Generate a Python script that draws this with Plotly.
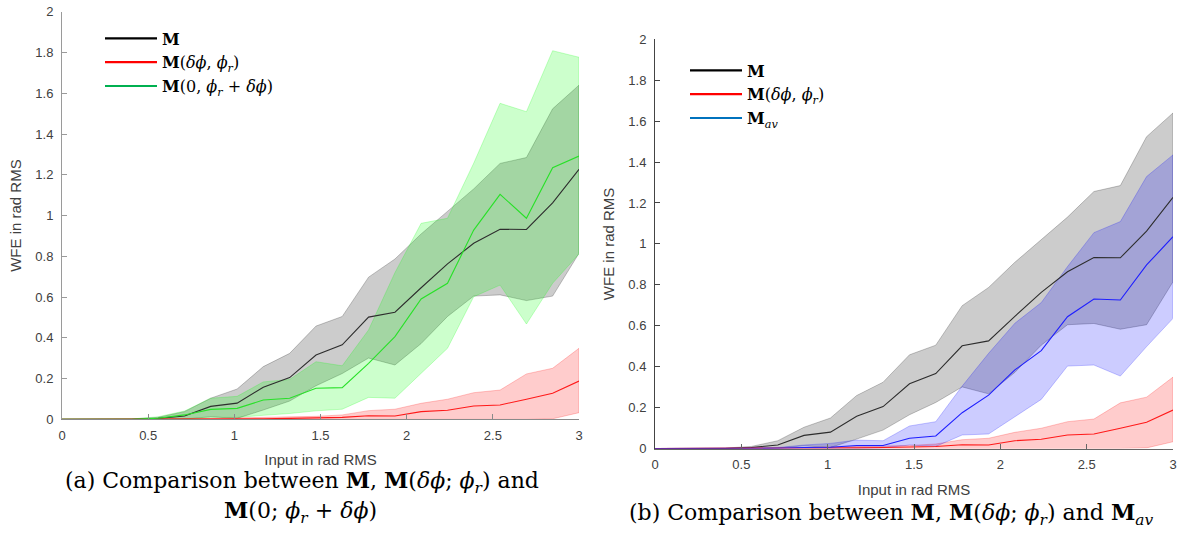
import plotly.graph_objects as go

# ---------------- data ----------------
x_input = [0, 0.1, 0.253, 0.405, 0.558, 0.711, 0.863, 1.016, 1.168, 1.321, 1.474,
           1.626, 1.779, 1.932, 2.084, 2.237, 2.389, 2.542, 2.695, 2.847, 3.0]

m_mean = [0, 0, 0, 0, 0.005, 0.017, 0.064, 0.080, 0.158, 0.205, 0.316,
          0.366, 0.502, 0.526, 0.646, 0.763, 0.864, 0.933, 0.932, 1.062, 1.227]
m_upper = [0, 0, 0, 0.002, 0.010, 0.038, 0.104, 0.149, 0.259, 0.324, 0.458,
           0.505, 0.698, 0.787, 0.910, 1.023, 1.131, 1.256, 1.285, 1.524, 1.640]
m_lower = [0, 0, 0, 0, 0, 0.002, 0.013, 0.005, 0.046, 0.090, 0.165,
           0.225, 0.301, 0.267, 0.372, 0.505, 0.605, 0.611, 0.583, 0.605, 0.815]

r_mean = [0, 0, 0, 0, 0, 0, 0, 0.002, 0.003, 0.005, 0.007,
          0.010, 0.018, 0.017, 0.038, 0.045, 0.066, 0.071, 0.099, 0.128, 0.188]
r_upper = [0, 0, 0, 0, 0, 0.003, 0.005, 0.008, 0.010, 0.012, 0.015,
           0.022, 0.043, 0.050, 0.079, 0.099, 0.131, 0.144, 0.223, 0.251, 0.349]
r_lower = [0, 0, 0, 0, 0, 0, 0, 0, 0, 0, 0,
           0, 0, 0, 0, 0, 0, 0, 0, 0.003, 0.033]

g_mean = [0, 0, 0, 0, 0.006, 0.022, 0.049, 0.054, 0.095, 0.104, 0.153,
          0.156, 0.275, 0.406, 0.591, 0.668, 0.929, 1.104, 0.987, 1.235, 1.292]
g_upper = [0, 0, 0, 0.002, 0.013, 0.041, 0.104, 0.113, 0.184, 0.196, 0.283,
           0.263, 0.439, 0.720, 0.962, 0.987, 1.257, 1.551, 1.510, 1.809, 1.777]
g_lower = [0, 0, 0, 0, 0, 0, 0.010, 0.010, 0.020, 0.029, 0.042,
           0.050, 0.108, 0.104, 0.226, 0.349, 0.602, 0.659, 0.468, 0.668, 0.812]

b_mean = [0, 0, 0, 0, 0, 0.001, 0.005, 0.006, 0.015, 0.015, 0.050,
          0.061, 0.175, 0.261, 0.384, 0.478, 0.644, 0.731, 0.726, 0.897, 1.035]
b_upper = [0, 0, 0, 0, 0.001, 0.005, 0.017, 0.025, 0.041, 0.038, 0.110,
           0.131, 0.305, 0.465, 0.612, 0.713, 0.889, 1.055, 1.109, 1.329, 1.435]
b_lower = [0, 0, 0, 0, 0, 0, 0, 0, 0, 0.003, 0.017,
           0.010, 0.066, 0.071, 0.155, 0.240, 0.403, 0.408, 0.354, 0.498, 0.636]

x_ticks = [0, 0.5, 1, 1.5, 2, 2.5, 3]
x_ticklabels = ["0", "0.5", "1", "1.5", "2", "2.5", "3"]
y_ticks = [0, 0.2, 0.4, 0.6, 0.8, 1.0, 1.2, 1.4, 1.6, 1.8, 2.0]
y_ticklabels = ["0", "0.2", "0.4", "0.6", "0.8", "1", "1.2", "1.4", "1.6", "1.8", "2"]

legend_a = ["<b>M</b>", "<b>M</b>(<i>δϕ</i>, <i>ϕ<sub>r</sub></i>)",
            "<b>M</b>(0, <i>ϕ<sub>r</sub></i> + <i>δϕ</i>)"]
legend_b = ["<b>M</b>", "<b>M</b>(<i>δϕ</i>, <i>ϕ<sub>r</sub></i>)",
            "<b>M</b><sub><i>av</i></sub>"]

caption_a1 = "(a) Comparison between <b>M</b>, <b>M</b>(<i>δϕ</i>; <i>ϕ<sub>r</sub></i>) and"
caption_a2 = "<b>M</b>(0; <i>ϕ<sub>r</sub></i> + <i>δϕ</i>)"
caption_b = ("(b) Comparison between <b>M</b>, <b>M</b>(<i>δϕ</i>; <i>ϕ<sub>r</sub></i>) "
             "and <b>M</b><sub><i>av</i></sub>")

# ---------------- layout helpers (body margin is removed, figure fills the page) ----------------
FW, FH = 1183, 548


def px(p):
    return p / FW


def py(p):
    return 1 - p / FH


SERIF = "DejaVu Serif"
SANS = "Liberation Sans"

fig = go.Figure()


def band(xa, ya, upper, lower, rgb):
    fig.add_trace(go.Scatter(
        x=x_input + x_input[::-1], y=upper + lower[::-1],
        fill="toself", fillcolor=f"rgba({rgb},0.2)",
        line=dict(color=f"rgba({rgb},0.22)", width=1),
        mode="lines", hoverinfo="skip", showlegend=False,
        xaxis=xa, yaxis=ya))


def mean_line(xa, ya, y, color):
    fig.add_trace(go.Scatter(
        x=x_input, y=y, mode="lines", line=dict(color=color, width=1.1),
        showlegend=False, xaxis=xa, yaxis=ya))


# left panel
band("x", "y", m_upper, m_lower, "0,0,0")
band("x", "y", r_upper, r_lower, "255,0,0")
band("x", "y", g_upper, g_lower, "0,255,0")
mean_line("x", "y", m_mean, "rgb(45,45,45)")
mean_line("x", "y", r_mean, "rgb(255,25,25)")
mean_line("x", "y", g_mean, "rgb(40,225,40)")

# right panel
band("x2", "y2", m_upper, m_lower, "0,0,0")
band("x2", "y2", r_upper, r_lower, "255,0,0")
band("x2", "y2", b_upper, b_lower, "0,0,255")
mean_line("x2", "y2", m_mean, "rgb(45,45,45)")
mean_line("x2", "y2", r_mean, "rgb(255,25,25)")
mean_line("x2", "y2", b_mean, "rgb(30,30,255)")

# legend entries
for name, col in zip(legend_a, ["black", "rgb(255,0,0)", "rgb(0,176,80)"]):
    fig.add_trace(go.Scatter(x=[None], y=[None], mode="lines", name=name,
                             line=dict(color=col, width=2.2), legend="legend",
                             xaxis="x", yaxis="y"))
for name, col in zip(legend_b, ["black", "rgb(255,0,0)", "rgb(0,114,189)"]):
    fig.add_trace(go.Scatter(x=[None], y=[None], mode="lines", name=name,
                             line=dict(color=col, width=2.2), legend="legend2",
                             xaxis="x2", yaxis="y2"))

axis_common = dict(showgrid=False, zeroline=False, showline=True, automargin=False,
                   ticks="inside", ticklen=5, tickwidth=1, ticklabeloverflow="allow",
                   tickfont=dict(family=SANS, size=13, color="#404040"),
                   title_font=dict(family=SANS, size=15, color="#404040"))

fig.update_layout(
    width=FW, height=FH,
    margin=dict(l=0, r=0, t=0, b=0, autoexpand=False),
    paper_bgcolor="white", plot_bgcolor="white",
    xaxis=dict(domain=[px(62), px(579)], range=[0, 3], tickvals=x_ticks,
               ticktext=x_ticklabels, linecolor="#8a8a8a", tickcolor="#8a8a8a",
               ticklabelstandoff=4,
               title=dict(text="Input in rad RMS", standoff=12), anchor="y",
               **axis_common),
    yaxis=dict(domain=[py(419.4), py(11.8)], range=[0, 2], tickvals=y_ticks,
               ticktext=y_ticklabels, linecolor="#9a9a9a", tickcolor="#9a9a9a",
               ticklabelstandoff=5,
               title=dict(text="WFE in rad RMS", standoff=10), anchor="x",
               **axis_common),
    xaxis2=dict(domain=[px(655), px(1173)], range=[0, 3], tickvals=x_ticks,
                ticktext=x_ticklabels, linecolor="#666666", tickcolor="#666666",
                ticklabelstandoff=4,
                title=dict(text="Input in rad RMS", standoff=13), anchor="y2",
                **axis_common),
    yaxis2=dict(domain=[py(448.5), py(39.3)], range=[0, 2], tickvals=y_ticks,
                ticktext=y_ticklabels, linecolor="#444444", tickcolor="#444444",
                ticklabelstandoff=5,
                title=dict(text="WFE in rad RMS", standoff=10), anchor="x2",
                **axis_common),
    legend=dict(x=px(100), y=py(21.5), xanchor="left", yanchor="top",
                bgcolor="rgba(0,0,0,0)", font=dict(family=SERIF, size=16, color="black"),
                tracegroupgap=0, itemwidth=52),
    legend2=dict(x=px(685), y=py(53.5), xanchor="left", yanchor="top",
                 bgcolor="rgba(0,0,0,0)", font=dict(family=SERIF, size=16, color="black"),
                 tracegroupgap=0, itemwidth=52),
    annotations=[
        dict(text=caption_a1, x=px(302), y=py(481.5), xref="paper", yref="paper",
             xanchor="center", yanchor="middle", showarrow=False,
             font=dict(family=SERIF, size=22, color="black")),
        dict(text=caption_a2, x=px(300), y=py(512), xref="paper", yref="paper",
             xanchor="center", yanchor="middle", showarrow=False,
             font=dict(family=SERIF, size=22, color="black")),
        dict(text=caption_b, x=px(891), y=py(514), xref="paper", yref="paper",
             xanchor="center", yanchor="middle", showarrow=False,
             font=dict(family=SERIF, size=22, color="black")),
    ],
)

fig.write_html("out.html", config={"displayModeBar": False},
               post_script="document.body.style.margin='0';document.body.style.overflow='hidden';")
